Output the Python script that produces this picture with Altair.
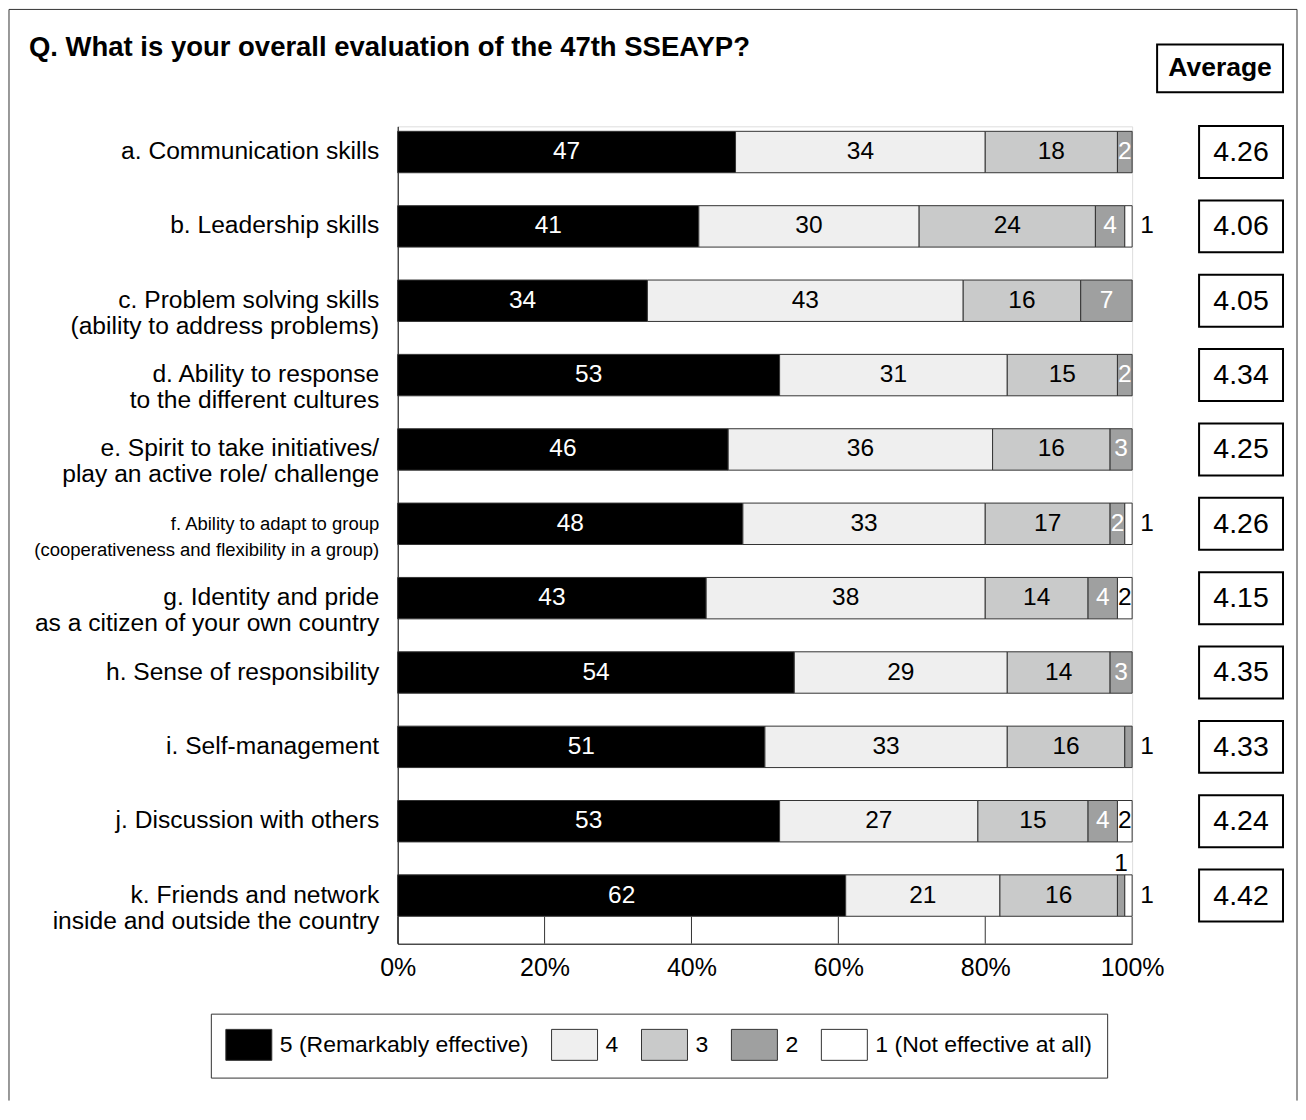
import altair as alt
import pandas as pd

title_text = "Q. What is your overall evaluation of the 47th SSEAYP?"
header_text = "Average"

items = [
    "a. Communication skills",
    "b. Leadership skills",
    "c. Problem solving skills|(ability to address problems)",
    "d. Ability to response|to the different cultures",
    "e. Spirit to take initiatives/|play an active role/ challenge",
    "f. Ability to adapt to group|(cooperativeness and flexibility in a group)",
    "g. Identity and pride|as a citizen of your own country",
    "h. Sense of responsibility",
    "i. Self-management",
    "j. Discussion with others",
    "k. Friends and network|inside and outside the country",
]
categories = ["5 (Remarkably effective)", "4", "3", "2", "1 (Not effective at all)"]
colors = ["#000000", "#efefef", "#c9caca", "#9fa0a0", "#ffffff"]

# bar widths (%)
share5 = [46, 41, 34, 52, 45, 47, 42, 54, 50, 52, 61]
share4 = [34, 30, 43, 31, 36, 33, 38, 29, 33, 27, 21]
share3 = [18, 24, 16, 15, 16, 17, 14, 14, 16, 15, 16]
share2 = [2, 4, 7, 2, 3, 2, 4, 3, 1, 4, 1]
share1 = [0, 1, 0, 0, 0, 1, 2, 0, 0, 2, 1]
# printed numbers
label5 = [47, 41, 34, 53, 46, 48, 43, 54, 51, 53, 62]
label4 = [34, 30, 43, 31, 36, 33, 38, 29, 33, 27, 21]
label3 = [18, 24, 16, 15, 16, 17, 14, 14, 16, 15, 16]
label2 = [2, 4, 7, 2, 3, 2, 4, 3, 1, 4, 1]
label1 = [0, 1, 0, 0, 0, 1, 2, 0, 0, 2, 1]

averages = [4.26, 4.06, 4.05, 4.34, 4.25, 4.26, 4.15, 4.35, 4.33, 4.24, 4.42]
x_ticks = [0, 20, 40, 60, 80, 100]

rows = []
for i, it in enumerate(items):
    vals = [share5[i], share4[i], share3[i], share2[i], share1[i]]
    labs = [label5[i], label4[i], label3[i], label2[i], label1[i]]
    nz = [k for k, v in enumerate(vals) if v > 0]
    last = nz[-1]
    start = 0
    for k, (v, lb) in enumerate(zip(vals, labs)):
        if v > 0:
            if v >= 2:
                place = "in"
            elif k == last:
                place = "right"
            else:
                place = "above"
            white = (k == 0) or (k == 3 and place == "in")
            rows.append(dict(item=it, cat=categories[k], x0=start, x1=start + v,
                             lx=(100 if place == "right" else start + v / 2),
                             lab=str(lb), place=place,
                             tcol="white" if white else "black"))
        start += v
df = pd.DataFrame(rows)
avg_df = pd.DataFrame({"item": items, "avg": [f"{a:.2f}" for a in averages]})
tick_df = pd.DataFrame({"t": x_ticks})
one = pd.DataFrame({"k": [0]})

FONT = "Liberation Sans"

yscale = alt.Scale(domain=items, paddingInner=0.443, paddingOuter=0.218, align=0.154)
yaxis = alt.Axis(
    title=None, labelExpr="split(datum.label, '|')",
    labelFontSize={"condition": {"test": "indexof(datum.value, 'f.') == 0", "value": 18.5}, "value": 24.6},
    labelPadding=19, ticks=False, tickSize=0, domainColor="black", domainWidth=1,
    labelColor="black", labelLineHeight=26, labelLimit=600, labelBaseline="middle",
    labelFont=FONT,
)
Y = alt.Y("item:N", sort=items, scale=yscale, axis=yaxis)

xscale = alt.Scale(domain=[0, 100], nice=False)
xaxis = alt.Axis(title=None, values=x_ticks, labelExpr="datum.value + '%'", grid=False,
                 ticks=False, tickSize=0, labelPadding=12, labelFontSize=25,
                 labelFlush=False, domainColor="black", domainWidth=1, labelColor="black")

bars = alt.Chart(df).mark_bar(stroke="#333333", strokeWidth=1).encode(
    x=alt.X("x0:Q", scale=xscale, axis=xaxis),
    x2="x1:Q",
    y=Y,
    color=alt.Color("cat:N", scale=alt.Scale(domain=categories, range=colors),
                    legend=alt.Legend(orient="none", legendX=-187, legendY=888,
                                      direction="horizontal", title=None,
                                      symbolType="M-1.484,-1H1.484V1H-1.484Z", symbolSize=961,
                                      symbolOffset=7, symbolStrokeColor="#333333",
                                      symbolStrokeWidth=1, symbolOpacity=1,
                                      labelFontSize=23, labelOffset=15,
                                      columnPadding=20, padding=15, strokeColor="#333333",
                                      fillColor="white", labelLimit=600, labelColor="black")),
)

def seg_text(place, **kw):
    return alt.Chart(df).transform_filter(alt.datum.place == place).mark_text(
        fontSize=24.5, baseline="middle", align="center", **kw
    ).encode(
        x=alt.X("lx:Q", scale=xscale, axis=xaxis),
        y=Y,
        text="lab:N",
        color=alt.Color("tcol:N", scale=None),
    )

txt_in = seg_text("in")
txt_right = seg_text("right", dx=15)
txt_above = seg_text("above", dy=-32)

ticks = alt.Chart(tick_df).mark_rule(color="#333333", strokeWidth=1).encode(
    x=alt.X("t:Q", scale=xscale, axis=xaxis),
    y=alt.value(791), y2=alt.value(818),
)

avg_box = alt.Chart(avg_df).mark_bar(height=52, fill="white", stroke="black", strokeWidth=2).encode(
    x=alt.value(802), x2=alt.value(886), y=Y,
)
avg_txt = alt.Chart(avg_df).mark_text(fontSize=28.5, align="center", baseline="middle", color="black").encode(
    x=alt.value(844), y=Y, text="avg:N",
)

head_box = alt.Chart(one).mark_rect(fill="white", stroke="black", strokeWidth=2).encode(
    x=alt.value(760), x2=alt.value(886), y=alt.value(-82), y2=alt.value(-34),
)
head_txt = alt.Chart(one).mark_text(fontSize=26.5, fontWeight="bold", align="center",
                                    baseline="middle", color="black", text=header_text).encode(
    x=alt.value(823), y=alt.value(-58),
)
title = alt.Chart(one).mark_text(fontSize=27.5, fontWeight="bold", align="left",
                                 baseline="alphabetic", color="black", text=title_text).encode(
    x=alt.value(-369), y=alt.value(-70),
)

border_l = alt.Chart(one).mark_rule(color="#333333", strokeWidth=1).encode(
    x=alt.value(-389), y=alt.value(-117), y2=alt.value(975))
border_t = alt.Chart(one).mark_rule(color="#333333", strokeWidth=1).encode(
    x=alt.value(-389), x2=alt.value(900), y=alt.value(-117))
border_r = alt.Chart(one).mark_rule(color="#333333", strokeWidth=1).encode(
    x=alt.value(900), y=alt.value(-117), y2=alt.value(975))

chart = alt.layer(
    border_l, border_t, border_r, title, head_box, head_txt,
    bars, ticks, txt_in, txt_right, txt_above, avg_box, avg_txt,
).properties(
    width=735, height=818,
    padding={"left": 0, "top": 0, "right": 0, "bottom": 0},
).configure_view(strokeWidth=0).configure(font=FONT)

chart.save("out.html", embed_options={"renderer": "svg", "actions": False})
